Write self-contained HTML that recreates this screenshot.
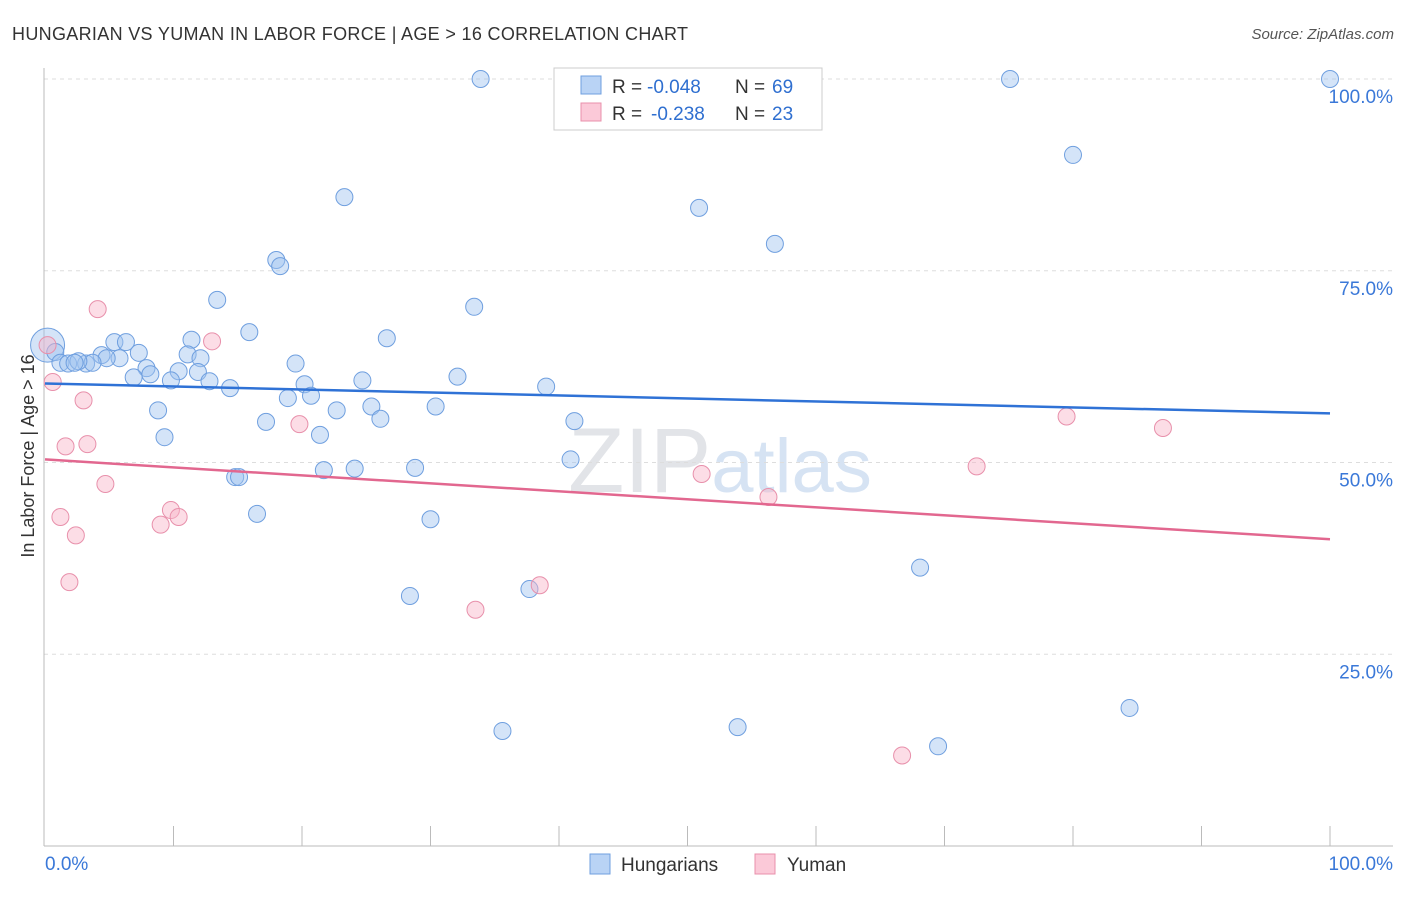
<!DOCTYPE html>
<html><head><meta charset="utf-8"><style>
body{margin:0;background:#fff;font-family:"Liberation Sans",sans-serif;}
svg text{font-family:"Liberation Sans",sans-serif;}
</style></head><body>
<svg id="c" width="1406" height="892">
<text x="12" y="40" font-size="18" fill="#333" textLength="676">HUNGARIAN VS YUMAN IN LABOR FORCE | AGE &gt; 16 CORRELATION CHART</text>
<text x="1394" y="39" font-size="15" fill="#555" text-anchor="end" font-style="italic">Source: ZipAtlas.com</text>
<text x="720" y="492" font-size="92" fill="#e9ebef" text-anchor="middle" font-family="Liberation Serif"><tspan fill="#e2e4e8">ZIP</tspan><tspan fill="#d6e3f3" font-family="Liberation Sans" font-size="76">atlas</tspan></text>
<g id="grid"></g><g id="marks"></g>
<text transform="translate(34,456) rotate(-90)" font-size="18" fill="#333" text-anchor="middle">In Labor Force | Age &gt; 16</text>
<g>
<rect x="554" y="68" width="268" height="62" fill="#fff" stroke="#ccc"/>
<rect x="581" y="76" width="20" height="18" fill="#b9d3f5" stroke="#6f9fdf"/>
<rect x="581" y="103" width="20" height="18" fill="#fbc9d8" stroke="#e890ab"/>
<text x="612" y="93" font-size="19" fill="#333">R =</text>
<text x="647" y="93" font-size="19" fill="#2f6fd0">-0.048</text>
<text x="735" y="93" font-size="19" fill="#333">N =</text>
<text x="772" y="93" font-size="19" fill="#2f6fd0">69</text>
<text x="612" y="120" font-size="19" fill="#333">R =</text>
<text x="651" y="120" font-size="19" fill="#2f6fd0">-0.238</text>
<text x="735" y="120" font-size="19" fill="#333">N =</text>
<text x="772" y="120" font-size="19" fill="#2f6fd0">23</text>
</g>
<g>
<rect x="590" y="854" width="20" height="20" fill="#b9d3f5" stroke="#6f9fdf"/>
<text x="621" y="871" font-size="19" fill="#333">Hungarians</text>
<rect x="755" y="854" width="20" height="20" fill="#fbc9d8" stroke="#e890ab"/>
<text x="787" y="871" font-size="19" fill="#333">Yuman</text>
</g>
</svg>
<script>
const yTicks=[25,50,75,100];
const yTickLabels=["25.0%","50.0%","75.0%","100.0%"];
const xTickCount=10;
const blueX=[33.9,75.1,100,80.0,23.3,50.9,56.8,18.0,18.3,13.4,33.4,15.9,26.6,11.4,5.4,6.3,0.2,0.8,7.3,11.1,4.4,12.1,5.8,4.8,1.2,1.8,3.2,3.7,19.5,2.6,2.3,7.9,10.4,11.9,8.2,6.9,9.8,24.7,32.1,12.8,20.2,14.4,39.0,20.7,18.9,8.8,22.7,25.4,30.4,26.1,17.2,41.2,9.3,21.4,40.9,28.8,21.7,24.1,14.8,15.1,16.5,30.0,68.1,37.7,28.4,84.4,35.6,53.9,69.5];
const blueY=[100,100,100,90.1,84.6,83.2,78.5,76.4,75.6,71.2,70.3,67.0,66.2,66.0,65.7,65.7,65.3,64.4,64.3,64.1,64.0,63.6,63.6,63.6,63.0,62.9,62.9,63.0,62.9,63.2,63.0,62.3,61.9,61.8,61.5,61.1,60.7,60.7,61.2,60.6,60.2,59.7,59.9,58.7,58.4,56.8,56.8,57.3,57.3,55.7,55.3,55.4,53.3,53.6,50.4,49.3,49.0,49.2,48.1,48.1,43.3,42.6,36.3,33.5,32.6,18.0,15.0,15.5,13.0];
const pinkX=[4.1,13.0,0.2,0.6,3.0,19.8,1.6,3.3,79.5,87.0,72.5,51.1,4.7,56.3,1.2,9.8,10.4,9.0,2.4,1.9,38.5,33.5,66.7];
const pinkY=[70.0,65.8,65.3,60.5,58.1,55.0,52.1,52.4,56.0,54.5,49.5,48.5,47.2,45.5,42.9,43.8,42.9,41.9,40.5,34.4,34.0,30.8,11.8];
const blueTrend=[60.3,56.4];
const pinkTrend=[50.4,40.0];
const X0=45,X1=1330,Y0=846,YP=7.67;
const sx=v=>X0+(X1-X0)*v/100, sy=v=>Y0-v*YP;
const NS="http://www.w3.org/2000/svg";
function mk(p,t,a){const e=document.createElementNS(NS,t);for(const k in a)e.setAttribute(k,a[k]);p.appendChild(e);return e;}
const g=document.getElementById('grid'),m=document.getElementById('marks');
yTicks.forEach((t,i)=>{
 const l=mk(g,'line',{x1:44,x2:1393,y1:sy(t),y2:sy(t),stroke:'#ddd','stroke-dasharray':'4,4'});
 
 
 const tx=mk(g,'text',{x:1393,y:sy(t)+24,'text-anchor':'end','font-size':19,fill:'#3a78d8'});
 tx.textContent=yTickLabels[i];
 
 
});
const ax=mk(g,'line',{x1:44,x2:44,y1:68,y2:846,stroke:'#bbb'});


const bx=mk(g,'line',{x1:44,x2:1393,y1:846,y2:846,stroke:'#bbb'});


for(let i=1;i<=xTickCount;i++){const x=sx(i*100/xTickCount);const t=mk(g,'line',{x1:x,x2:x,y1:826,y2:846,stroke:'#bbb'});
 
 }
[[45,'start','0.0%'],[1393,'end','100.0%']].forEach(d=>{const t=mk(g,'text',{x:d[0],y:870,'text-anchor':d[1],'font-size':19,fill:'#3a78d8'});t.textContent=d[2];
 
 });
blueX.forEach((v,i)=>{const c=mk(m,'circle',{cx:sx(v),cy:sy(blueY[i]),r:i==16?17:8.5,fill:'rgba(160,196,240,0.45)',stroke:'#6f9fdf','stroke-width':1});
 
 });
pinkX.forEach((v,i)=>{const c=mk(m,'circle',{cx:sx(v),cy:sy(pinkY[i]),r:8.5,fill:'rgba(248,180,200,0.45)',stroke:'#e890ab','stroke-width':1});
 
 });
const bl=mk(m,'line',{x1:sx(0),x2:sx(100),y1:sy(blueTrend[0]),y2:sy(blueTrend[1]),stroke:'#2f72d6','stroke-width':2.5});


const pl=mk(m,'line',{x1:sx(0),x2:sx(100),y1:sy(pinkTrend[0]),y2:sy(pinkTrend[1]),stroke:'#e2678f','stroke-width':2.5});


</script>
</body></html>
